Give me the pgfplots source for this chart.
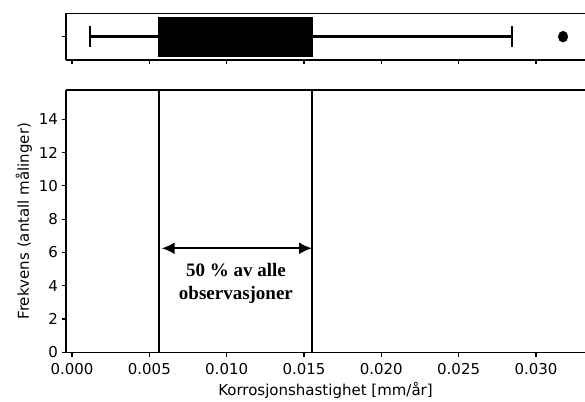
\documentclass[border=0pt]{standalone}
\usepackage{fontspec}
\setmainfont{DejaVu Sans}
\newfontfamily\timesb{Liberation Serif}
\usepackage{pgfplots}
\pgfplotsset{compat=1.18}
\usepgfplotslibrary{statistics}
\usetikzlibrary{arrows.meta}
\begin{document}
\begin{tikzpicture}[x=1pt,y=1pt]
\useasboundingbox (0,0) rectangle (585,401);
\pgfplotsset{
  every axis/.append style={
    scale only axis, width=519pt,
    xmin=-0.000388, xmax=0.03317,
    axis x line*=box, axis y line*=left,
    axis line style={line width=1.3pt},
    tick style={black, line width=1.2pt},
    major tick length=4.5pt,
    tick align=outside, xtick pos=bottom, ytick pos=left,
    xtick={0,0.005,0.010,0.015,0.020,0.025,0.030},
    scaled x ticks=false,
    tick label style={font=\fontsize{15}{18}\selectfont},
    label style={font=\fontsize{15}{18}\selectfont},
    /pgf/number format/assume math mode=true,
  }
}
% top boxplot panel
\begin{axis}[at={(66pt,341pt)}, anchor=south west, height=46.7pt,
  ymin=0, ymax=1, ytick={0.5}, yticklabels={}, xticklabels={}]
\addplot[black, fill=black, line width=2.6pt,
  boxplot prepared={lower whisker=0.00116, lower quartile=0.00564,
    median=0.0100, upper quartile=0.0155, upper whisker=0.02845,
    draw position=0.5, box extend=0.80, whisker extend=0.45}]
  coordinates {};
\addplot[only marks, mark=*, black, mark size=4.8pt, mark options={yscale=1.15}]
  coordinates {(0.03175,0.5)};
\end{axis}
% main histogram panel
\begin{axis}[at={(66pt,48.7pt)}, anchor=south west, height=262.3pt,
  ymin=0, ymax=15.76, ytick={0,2,4,6,8,10,12,14},
  xticklabel style={yshift=-3pt, /pgf/number format/.cd, fixed, fixed zerofill, precision=3},
  xlabel={Korrosjonshastighet [mm/år]},
  ylabel={Frekvens (antall målinger)},
  xlabel style={yshift=-1pt},
  ylabel style={yshift=0pt}]
\addplot[black, line width=2pt] coordinates {(0.0056,0) (0.0056,15.76)};
\addplot[black, line width=2pt] coordinates {(0.01552,0) (0.01552,15.76)};
\addplot[black, line width=2pt, {Latex[length=13pt,width=12pt]}-{Latex[length=13pt,width=12pt]}]
  coordinates {(0.0058,6.25) (0.01552,6.25)};
\node[align=center, font=\timesb\bfseries\fontsize{19}{23}\selectfont]
  at (axis cs:0.0106,4.15) {50 \% av alle\\observasjoner};
\end{axis}
\end{tikzpicture}
\end{document}
